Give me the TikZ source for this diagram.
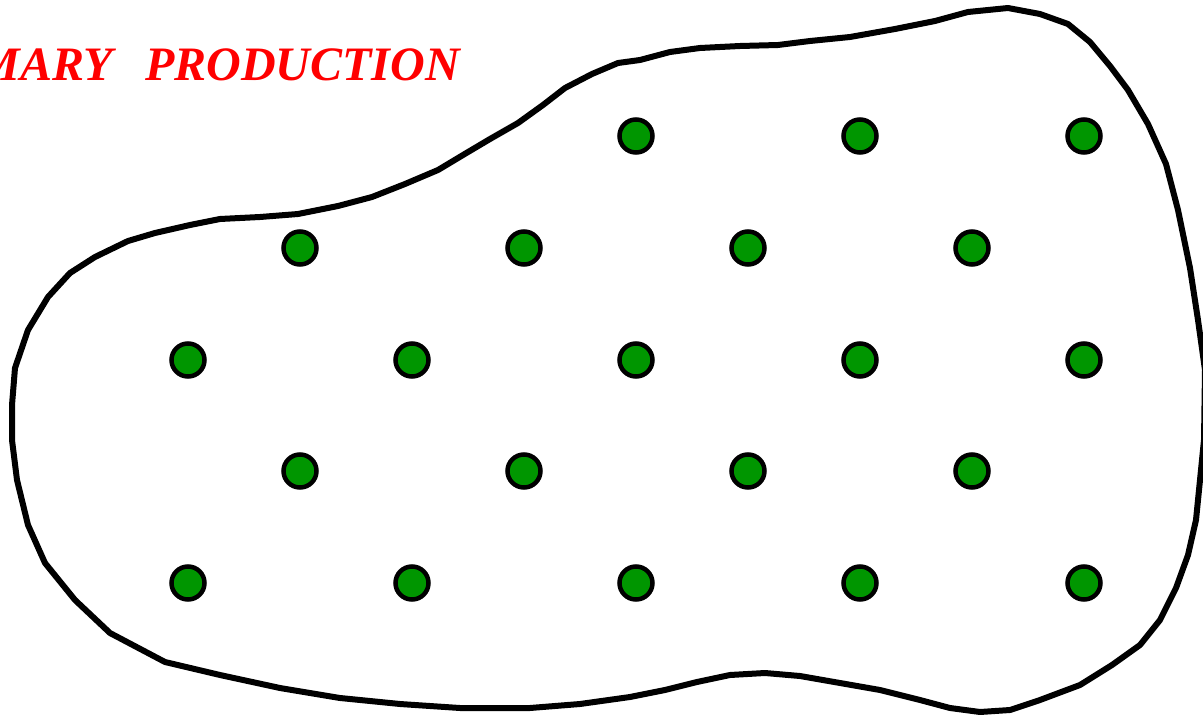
\documentclass[tikz,border=0pt]{standalone}
\usepackage{fontspec}
\setmainfont{Liberation Serif}
\usepackage{tikz}
\definecolor{plantgreen}{RGB}{0,150,0}
\tikzset{
    blob/.style={draw=black, line width=6pt, line join=round},
    plant/.style={circle, draw=black, fill=plantgreen, line width=4.5pt,
                  minimum size=33pt, inner sep=0pt},
    title/.style={text=red, font=\fontsize{48}{56}\selectfont\bfseries\itshape,
                  anchor=base east, inner sep=0pt},
}
\begin{document}
\begin{tikzpicture}[x=1pt, y=-1pt]

    \useasboundingbox (0,0) rectangle (1203,715);
    \clip (0,0) rectangle (1203,715);

    \node[title] (label) at (460,80) {PRIMARY\hspace{32pt}PRODUCTION};

    % outline of the region
    \draw[blob] (968,12) -- (1008,8) -- (1040,14) -- (1068,24) -- (1090,42)
        -- (1110,66) -- (1128,90) -- (1148,124) -- (1166,164) -- (1178,210)
        -- (1190,268) -- (1198,320) -- (1205,370) -- (1204,440) -- (1200,480)
        -- (1196,520) -- (1188,555) -- (1176,588) -- (1160,620) -- (1140,645)
        -- (1112,665) -- (1080,685) -- (1040,700) -- (1010,710) -- (980,712)
        -- (950,708) -- (920,700) -- (880,690) -- (840,683) -- (800,676)
        -- (765,673) -- (730,675) -- (697,682) -- (665,690) -- (630,697)
        -- (580,704) -- (530,708) -- (460,708) -- (400,704) -- (340,698)
        -- (280,688) -- (220,675) -- (165,662) -- (110,633) -- (75,600)
        -- (45,563) -- (28,525) -- (17,480) -- (12,440) -- (12,405)
        -- (15,368) -- (28,330) -- (48,297) -- (70,273) -- (95,257)
        -- (128,241) -- (155,233) -- (190,225) -- (220,219) -- (260,217)
        -- (298,214) -- (338,206) -- (372,197) -- (405,184) -- (438,170)
        -- (463,155) -- (490,139) -- (518,123) -- (543,105) -- (565,88)
        -- (592,74) -- (618,63) -- (640,60) -- (670,52) -- (700,48)
        -- (740,46) -- (778,45) -- (810,41) -- (850,37) -- (895,29)
        -- (935,21) -- cycle;

    % plants
    \foreach \i in {1,2,3} \node[plant] (p1-\i) at (412+224*\i,136) {};
    \foreach \i in {0,...,3} \node[plant] (p2-\i) at (300+224*\i,248) {};
    \foreach \i in {0,...,4} \node[plant] (p3-\i) at (188+224*\i,360) {};
    \foreach \i in {0,...,3} \node[plant] (p4-\i) at (300+224*\i,471) {};
    \foreach \i in {0,...,4} \node[plant] (p5-\i) at (188+224*\i,583) {};

\end{tikzpicture}
\end{document}
